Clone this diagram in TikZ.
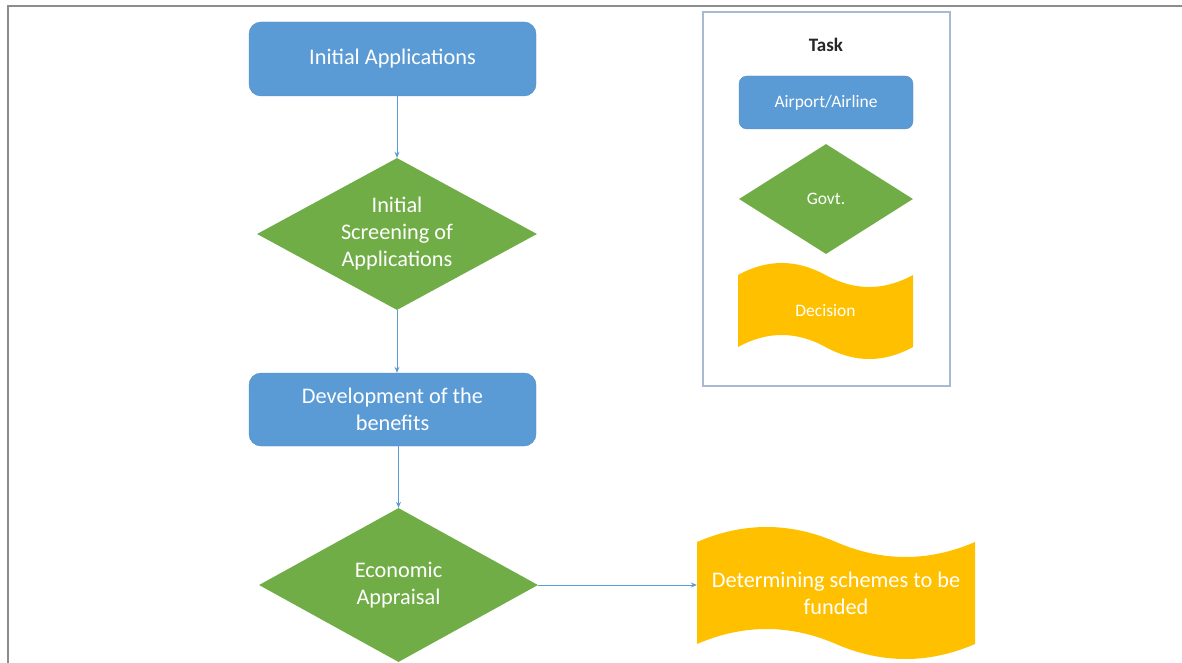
\documentclass[tikz,border=0pt]{standalone}
\usepackage{fontspec}
\setmainfont{Carlito}
\usetikzlibrary{shapes.geometric,arrows.meta,calc}
\definecolor{boxblue}{HTML}{5B9BD5}
\definecolor{govgreen}{HTML}{70AD47}
\definecolor{decgold}{HTML}{FFC000}
\definecolor{legframe}{HTML}{A9B9D2}
\definecolor{framegray}{HTML}{8C8C8C}
\tikzset{
  mainfont/.style={font=\fontsize{22.3}{27}\selectfont},
  legendfont/.style={font=\fontsize{17.5}{21}\selectfont},
  taskbox/.style={rectangle, rounded corners=12pt, fill=boxblue, draw=boxblue!90!black, line width=0.4pt,
    text=white, align=center, mainfont},
  govbox/.style={diamond, fill=govgreen, draw=none, inner sep=0pt},
  govtext/.style={text=white, align=center},
  wavetext/.style={rectangle, draw=none, inner sep=0pt, text=white, align=center, mainfont},
  conn/.style={draw=boxblue, line width=0.9pt, -{Stealth[length=6pt,width=5pt]}},
}
\begin{document}
\begin{tikzpicture}[x=1pt,y=-1pt]
\useasboundingbox (0,0) rectangle (1182,663);
% outer frame
\draw[framegray, line width=1.6pt] (1182,6) -- (8,6) -- (8,663);

% main flow
\node[taskbox, minimum width=287pt, minimum height=74pt] (init) at (392.5,59) {Initial Applications};
\node[govbox, minimum width=280pt, minimum height=152pt,
  label={[govtext, mainfont]center:Initial\\Screening of\\Applications}] (screen) at (397,234) {};
\node[taskbox, minimum width=287pt, minimum height=73pt] (dev) at (392.5,409.5) {Development of the\\benefits};
\node[govbox, minimum width=279pt, minimum height=154pt,
  label={[govtext, mainfont]center:Economic\\Appraisal}] (econ) at (398.5,585) {};

% decision wave (main)
\fill[decgold] (697,542) .. controls (743.3,522) and (789.7,522) .. (836,542)
  .. controls (882.3,562) and (928.7,562) .. (975,542)
  -- (975,644) .. controls (928.7,664) and (882.3,664) .. (836,644)
  .. controls (789.7,624) and (743.3,624) .. (697,644) -- cycle;
\node[wavetext, minimum width=278pt, minimum height=102pt] (fund) at (836,593) {Determining schemes to be\\funded};

% connectors
\draw[conn] (init.south -| screen.north) -- (screen.north);
\draw[conn] (screen.south) -- (dev.north -| screen.south);
\draw[conn] (dev.south -| econ.north) -- (econ.north);
\draw[conn] (econ.east) -- (econ.east -| fund.west);

% legend
\node[draw=legframe, line width=1.4pt, minimum width=247pt, minimum height=374pt] (legend) at (826.5,199) {};
\node[font=\fontsize{19}{22}\selectfont\bfseries, text=black!85] (task) at (826,45) {Task};
\node[taskbox, legendfont, rounded corners=8pt, minimum width=174pt, minimum height=53pt] (airline) at (826,102.5) {Airport/Airline};
\node[govbox, minimum width=174pt, minimum height=110pt,
  label={[govtext, legendfont]center:Govt.}] (govt) at (826,199) {};
\fill[decgold] (738,275) .. controls (767.2,259) and (796.3,259) .. (825.5,275)
  .. controls (854.7,291) and (883.8,291) .. (913,275)
  -- (913,347) .. controls (883.8,363) and (854.7,363) .. (825.5,347)
  .. controls (796.3,331) and (767.2,331) .. (738,347) -- cycle;
\node[wavetext, legendfont, minimum width=175pt, minimum height=72pt] (decision) at (825.5,311) {Decision};
\end{tikzpicture}
\end{document}
